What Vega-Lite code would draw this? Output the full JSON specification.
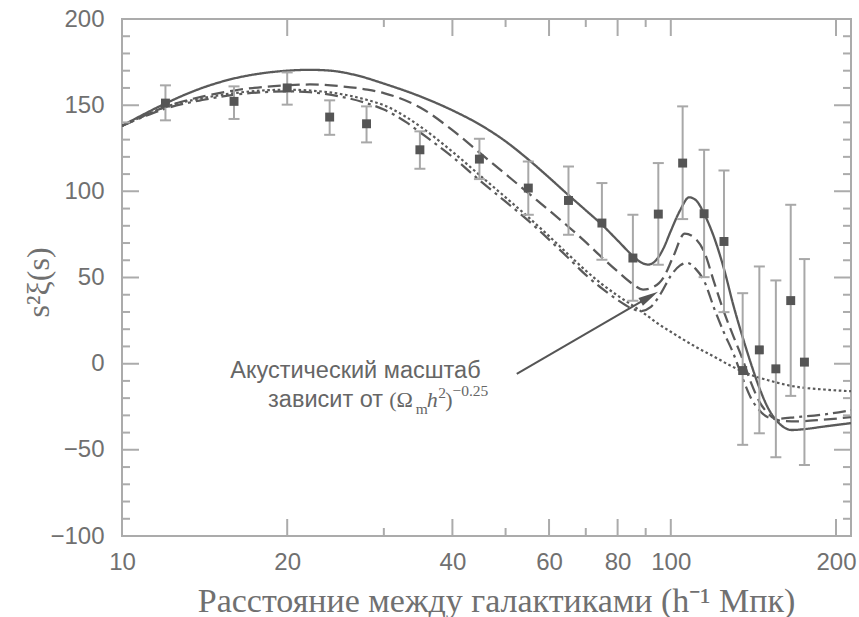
{
  "$schema": "https://vega.github.io/schema/vega-lite/v6.json",
  "width": 729,
  "height": 517,
  "autosize": {"type": "none"},
  "padding": {"left": 122, "top": 19, "right": 8, "bottom": 81},
  "background": "white",
  "config": {
    "view": {"stroke": "#ababab", "strokeWidth": 2},
    "axis": {
      "grid": false,
      "domain": false,
      "ticks": false,
      "labelFont": "Liberation Sans",
      "labelFontSize": 24,
      "labelColor": "#707070",
      "labelFlush": false,
      "labelOverlap": false
    }
  },
  "datasets": {
    "curves": [
      {"m": "a", "s": 10, "xi": 138}, {"m": "a", "s": 11, "xi": 145}, {"m": "a", "s": 12, "xi": 151},
      {"m": "a", "s": 14, "xi": 160}, {"m": "a", "s": 16, "xi": 165.5}, {"m": "a", "s": 18, "xi": 168.5},
      {"m": "a", "s": 20, "xi": 170}, {"m": "a", "s": 22, "xi": 170.5}, {"m": "a", "s": 24, "xi": 170},
      {"m": "a", "s": 27, "xi": 167}, {"m": "a", "s": 30, "xi": 162.5}, {"m": "a", "s": 35, "xi": 155},
      {"m": "a", "s": 40, "xi": 147}, {"m": "a", "s": 45, "xi": 138.5}, {"m": "a", "s": 50, "xi": 129},
      {"m": "a", "s": 55, "xi": 118.5}, {"m": "a", "s": 60, "xi": 108}, {"m": "a", "s": 65, "xi": 98},
      {"m": "a", "s": 70, "xi": 89}, {"m": "a", "s": 75, "xi": 80.5}, {"m": "a", "s": 80, "xi": 71.5},
      {"m": "a", "s": 85, "xi": 63}, {"m": "a", "s": 88, "xi": 59}, {"m": "a", "s": 91, "xi": 57.5},
      {"m": "a", "s": 94, "xi": 60}, {"m": "a", "s": 97, "xi": 67}, {"m": "a", "s": 100, "xi": 77},
      {"m": "a", "s": 104, "xi": 89}, {"m": "a", "s": 108, "xi": 96.5}, {"m": "a", "s": 111, "xi": 95},
      {"m": "a", "s": 115, "xi": 87}, {"m": "a", "s": 120, "xi": 73}, {"m": "a", "s": 125, "xi": 55},
      {"m": "a", "s": 130, "xi": 34}, {"m": "a", "s": 135, "xi": 16}, {"m": "a", "s": 140, "xi": 0},
      {"m": "a", "s": 145, "xi": -14}, {"m": "a", "s": 150, "xi": -25}, {"m": "a", "s": 158, "xi": -35},
      {"m": "a", "s": 166, "xi": -38.5}, {"m": "a", "s": 175, "xi": -38}, {"m": "a", "s": 190, "xi": -36.5},
      {"m": "a", "s": 213, "xi": -34.5},

      {"m": "b", "s": 10, "xi": 138}, {"m": "b", "s": 11, "xi": 144}, {"m": "b", "s": 12, "xi": 149},
      {"m": "b", "s": 14, "xi": 155}, {"m": "b", "s": 16, "xi": 158.5}, {"m": "b", "s": 18, "xi": 160.5},
      {"m": "b", "s": 20, "xi": 161.5}, {"m": "b", "s": 22, "xi": 162}, {"m": "b", "s": 25, "xi": 161},
      {"m": "b", "s": 28, "xi": 159}, {"m": "b", "s": 30, "xi": 157}, {"m": "b", "s": 35, "xi": 148.5},
      {"m": "b", "s": 40, "xi": 135.5}, {"m": "b", "s": 45, "xi": 122}, {"m": "b", "s": 50, "xi": 110},
      {"m": "b", "s": 55, "xi": 99}, {"m": "b", "s": 60, "xi": 89}, {"m": "b", "s": 65, "xi": 79.6},
      {"m": "b", "s": 70, "xi": 70.5}, {"m": "b", "s": 75, "xi": 61.5}, {"m": "b", "s": 80, "xi": 53.5},
      {"m": "b", "s": 85, "xi": 46.5}, {"m": "b", "s": 89, "xi": 43}, {"m": "b", "s": 93, "xi": 44.5},
      {"m": "b", "s": 97, "xi": 50}, {"m": "b", "s": 101, "xi": 62}, {"m": "b", "s": 106, "xi": 75.5},
      {"m": "b", "s": 110, "xi": 73.5}, {"m": "b", "s": 115, "xi": 65}, {"m": "b", "s": 120, "xi": 47},
      {"m": "b", "s": 125, "xi": 30}, {"m": "b", "s": 130, "xi": 16}, {"m": "b", "s": 135, "xi": 3},
      {"m": "b", "s": 140, "xi": -11}, {"m": "b", "s": 145, "xi": -22}, {"m": "b", "s": 150, "xi": -28.5},
      {"m": "b", "s": 158, "xi": -33}, {"m": "b", "s": 170, "xi": -33.5}, {"m": "b", "s": 190, "xi": -32.5},
      {"m": "b", "s": 213, "xi": -31},

      {"m": "c", "s": 10, "xi": 138}, {"m": "c", "s": 11, "xi": 143.5}, {"m": "c", "s": 12, "xi": 148},
      {"m": "c", "s": 14, "xi": 153}, {"m": "c", "s": 16, "xi": 156}, {"m": "c", "s": 18, "xi": 157.5},
      {"m": "c", "s": 20, "xi": 158}, {"m": "c", "s": 22, "xi": 157.5}, {"m": "c", "s": 25, "xi": 155},
      {"m": "c", "s": 28, "xi": 151}, {"m": "c", "s": 30, "xi": 147.5}, {"m": "c", "s": 33, "xi": 140},
      {"m": "c", "s": 35, "xi": 134}, {"m": "c", "s": 40, "xi": 120}, {"m": "c", "s": 45, "xi": 106},
      {"m": "c", "s": 50, "xi": 94}, {"m": "c", "s": 55, "xi": 83}, {"m": "c", "s": 60, "xi": 72},
      {"m": "c", "s": 65, "xi": 61.5}, {"m": "c", "s": 70, "xi": 51.5}, {"m": "c", "s": 75, "xi": 43.5},
      {"m": "c", "s": 80, "xi": 37}, {"m": "c", "s": 85, "xi": 32}, {"m": "c", "s": 88, "xi": 30.5},
      {"m": "c", "s": 92, "xi": 33}, {"m": "c", "s": 96, "xi": 41}, {"m": "c", "s": 100, "xi": 51},
      {"m": "c", "s": 104, "xi": 57}, {"m": "c", "s": 107, "xi": 58.5}, {"m": "c", "s": 111, "xi": 55},
      {"m": "c", "s": 115, "xi": 48}, {"m": "c", "s": 120, "xi": 32}, {"m": "c", "s": 125, "xi": 18},
      {"m": "c", "s": 130, "xi": 6}, {"m": "c", "s": 135, "xi": -8}, {"m": "c", "s": 140, "xi": -20},
      {"m": "c", "s": 145, "xi": -27}, {"m": "c", "s": 150, "xi": -31}, {"m": "c", "s": 155, "xi": -32},
      {"m": "c", "s": 170, "xi": -31}, {"m": "c", "s": 190, "xi": -29.5}, {"m": "c", "s": 213, "xi": -27},

      {"m": "d", "s": 10, "xi": 138}, {"m": "d", "s": 11, "xi": 144}, {"m": "d", "s": 12, "xi": 149},
      {"m": "d", "s": 14, "xi": 154}, {"m": "d", "s": 16, "xi": 157}, {"m": "d", "s": 18, "xi": 158.5},
      {"m": "d", "s": 20, "xi": 159}, {"m": "d", "s": 22, "xi": 158.5}, {"m": "d", "s": 25, "xi": 156.5},
      {"m": "d", "s": 28, "xi": 153}, {"m": "d", "s": 30, "xi": 150}, {"m": "d", "s": 33, "xi": 143},
      {"m": "d", "s": 35, "xi": 137.5}, {"m": "d", "s": 40, "xi": 123}, {"m": "d", "s": 45, "xi": 109},
      {"m": "d", "s": 50, "xi": 96.5}, {"m": "d", "s": 55, "xi": 85}, {"m": "d", "s": 60, "xi": 74},
      {"m": "d", "s": 65, "xi": 63.5}, {"m": "d", "s": 70, "xi": 54}, {"m": "d", "s": 75, "xi": 46},
      {"m": "d", "s": 80, "xi": 39.5}, {"m": "d", "s": 85, "xi": 34}, {"m": "d", "s": 90, "xi": 28.5},
      {"m": "d", "s": 95, "xi": 23}, {"m": "d", "s": 100, "xi": 18.5}, {"m": "d", "s": 110, "xi": 10.5},
      {"m": "d", "s": 120, "xi": 4}, {"m": "d", "s": 130, "xi": -2}, {"m": "d", "s": 140, "xi": -6.5},
      {"m": "d", "s": 150, "xi": -9.5}, {"m": "d", "s": 170, "xi": -13.5}, {"m": "d", "s": 190, "xi": -15},
      {"m": "d", "s": 213, "xi": -16}
    ],
    "pts": [
      {"s": 12.0, "xi": 151.2, "lo": 141.2, "hi": 161.5},
      {"s": 16.0, "xi": 152.2, "lo": 142.0, "hi": 160.9},
      {"s": 20.0, "xi": 160.0, "lo": 150.3, "hi": 169.0},
      {"s": 23.9, "xi": 143.1, "lo": 132.8, "hi": 152.8},
      {"s": 27.9, "xi": 139.2, "lo": 128.4, "hi": 149.3},
      {"s": 34.9, "xi": 124.1, "lo": 113.1, "hi": 134.8},
      {"s": 44.8, "xi": 118.7, "lo": 107.1, "hi": 130.5},
      {"s": 55.0, "xi": 101.9, "lo": 86.4, "hi": 117.3},
      {"s": 65.1, "xi": 94.7, "lo": 74.8, "hi": 114.4},
      {"s": 74.9, "xi": 81.6, "lo": 60.3, "hi": 104.8},
      {"s": 85.3, "xi": 61.3, "lo": 36.5, "hi": 86.4},
      {"s": 94.9, "xi": 86.8, "lo": 57.4, "hi": 116.4},
      {"s": 105.1, "xi": 116.4, "lo": 83.9, "hi": 149.3},
      {"s": 115.0, "xi": 87.0, "lo": 50.2, "hi": 124.1},
      {"s": 125.0, "xi": 70.9, "lo": 29.9, "hi": 112.1},
      {"s": 135.2, "xi": -4.0, "lo": -47.1, "hi": 40.9},
      {"s": 145.0, "xi": 8.0, "lo": -40.4, "hi": 56.4},
      {"s": 155.4, "xi": -3.0, "lo": -54.3, "hi": 48.3},
      {"s": 165.4, "xi": 36.6, "lo": -18.7, "hi": 92.2},
      {"s": 175.2, "xi": 0.9, "lo": -58.8, "hi": 60.7}
    ],
    "xticks": [
      {"v": 20, "k": "major"}, {"v": 30, "k": "minor"}, {"v": 40, "k": "major"}, {"v": 50, "k": "minor"},
      {"v": 60, "k": "major"}, {"v": 70, "k": "minor"}, {"v": 80, "k": "major"}, {"v": 90, "k": "minor"},
      {"v": 100, "k": "major"}, {"v": 200, "k": "major"}
    ],
    "yticks": [
      {"v": -90, "k": "minor"}, {"v": -80, "k": "minor"}, {"v": -70, "k": "minor"}, {"v": -60, "k": "minor"},
      {"v": -50, "k": "major"}, {"v": -40, "k": "minor"}, {"v": -30, "k": "minor"}, {"v": -20, "k": "minor"},
      {"v": -10, "k": "minor"}, {"v": 0, "k": "major"}, {"v": 10, "k": "minor"}, {"v": 20, "k": "minor"},
      {"v": 30, "k": "minor"}, {"v": 40, "k": "minor"}, {"v": 50, "k": "major"}, {"v": 60, "k": "minor"},
      {"v": 70, "k": "minor"}, {"v": 80, "k": "minor"}, {"v": 90, "k": "minor"}, {"v": 100, "k": "major"},
      {"v": 110, "k": "minor"}, {"v": 120, "k": "minor"}, {"v": 130, "k": "minor"}, {"v": 140, "k": "minor"},
      {"v": 150, "k": "major"}, {"v": 160, "k": "minor"}, {"v": 170, "k": "minor"}, {"v": 180, "k": "minor"},
      {"v": 190, "k": "minor"}
    ]
  },
  "layer": [
    {
      "data": {"name": "curves"},
      "mark": {"type": "line", "interpolate": "monotone", "color": "#5a5a5a", "clip": true},
      "encoding": {
        "x": {"field": "s", "type": "quantitative", "scale": {"type": "log", "domain": [10, 213], "nice": false},
          "axis": {"orient": "bottom", "values": [10, 20, 40, 60, 80, 100, 200], "format": "d", "labelPadding": 14,
            "title": "Расстояние между галактиками (h⁻¹ Мпк)", "titleFont": "Liberation Serif", "titleFontSize": 34,
            "titleFontWeight": "normal", "titleColor": "#707070", "titleX": 374, "titleY": 75, "titleBaseline": "alphabetic"}},
        "y": {"field": "xi", "type": "quantitative", "scale": {"domain": [-100, 200], "nice": false},
          "axis": {"orient": "left", "values": [-100, -50, 0, 50, 100, 150, 200], "format": "d", "labelPadding": 18,
            "title": "s²ξ(s)", "titleFont": "Liberation Serif", "titleFontSize": 32, "titleFontWeight": "normal",
            "titleColor": "#707070", "titleX": -84, "titleY": 263, "titleAngle": -90, "titleBaseline": "middle", "titleAlign": "center"}},
        "strokeDash": {"field": "m", "type": "nominal", "legend": null,
          "scale": {"domain": ["a", "b", "c", "d"], "range": [[1, 0], [13, 6], [13, 5, 3, 5], [2.6, 2.6]]}},
        "strokeWidth": {"field": "m", "type": "nominal", "legend": null,
          "scale": {"domain": ["a", "b", "c", "d"], "range": [2.3, 2.2, 2.2, 2.7]}}
      }
    },
    {
      "data": {"name": "xticks"},
      "mark": {"type": "tick", "orient": "vertical", "thickness": 2, "color": "#ababab", "opacity": 1, "clip": true},
      "encoding": {
        "x": {"field": "v", "type": "quantitative", "scale": {"type": "log", "domain": [10, 213], "nice": false}, "axis": null},
        "y": {"datum": -100, "type": "quantitative", "scale": {"domain": [-100, 200], "nice": false}, "axis": null},
        "size": {"field": "k", "type": "nominal", "legend": null, "scale": {"domain": ["major", "minor"], "range": [34, 16]}}
      }
    },
    {
      "data": {"name": "xticks"},
      "mark": {"type": "tick", "orient": "vertical", "thickness": 2, "color": "#ababab", "opacity": 1, "clip": true},
      "encoding": {
        "x": {"field": "v", "type": "quantitative", "scale": {"type": "log", "domain": [10, 213], "nice": false}, "axis": null},
        "y": {"datum": 200, "type": "quantitative", "scale": {"domain": [-100, 200], "nice": false}, "axis": null},
        "size": {"field": "k", "type": "nominal", "legend": null, "scale": {"domain": ["major", "minor"], "range": [34, 16]}}
      }
    },
    {
      "data": {"name": "yticks"},
      "mark": {"type": "tick", "orient": "horizontal", "thickness": 2, "color": "#ababab", "opacity": 1, "clip": true},
      "encoding": {
        "x": {"datum": 10, "type": "quantitative", "scale": {"type": "log", "domain": [10, 213], "nice": false}, "axis": null},
        "y": {"field": "v", "type": "quantitative", "scale": {"domain": [-100, 200], "nice": false}, "axis": null},
        "size": {"field": "k", "type": "nominal", "legend": null, "scale": {"domain": ["major", "minor"], "range": [32, 16]}}
      }
    },
    {
      "data": {"name": "yticks"},
      "mark": {"type": "tick", "orient": "horizontal", "thickness": 2, "color": "#ababab", "opacity": 1, "clip": true},
      "encoding": {
        "x": {"datum": 213, "type": "quantitative", "scale": {"type": "log", "domain": [10, 213], "nice": false}, "axis": null},
        "y": {"field": "v", "type": "quantitative", "scale": {"domain": [-100, 200], "nice": false}, "axis": null},
        "size": {"field": "k", "type": "nominal", "legend": null, "scale": {"domain": ["major", "minor"], "range": [32, 16]}}
      }
    },
    {
      "data": {"name": "pts"},
      "mark": {"type": "rule", "color": "#a8a8a8", "strokeWidth": 2},
      "encoding": {
        "x": {"field": "s", "type": "quantitative", "scale": {"type": "log", "domain": [10, 213], "nice": false}, "axis": null},
        "y": {"field": "lo", "type": "quantitative", "scale": {"domain": [-100, 200], "nice": false}, "axis": null},
        "y2": {"field": "hi"}
      }
    },
    {
      "data": {"name": "pts"},
      "transform": [{"fold": ["lo", "hi"], "as": ["end", "v"]}],
      "mark": {"type": "tick", "orient": "horizontal", "size": 11, "thickness": 2, "color": "#a8a8a8", "opacity": 1},
      "encoding": {
        "x": {"field": "s", "type": "quantitative", "scale": {"type": "log", "domain": [10, 213], "nice": false}, "axis": null},
        "y": {"field": "v", "type": "quantitative", "scale": {"domain": [-100, 200], "nice": false}, "axis": null}
      }
    },
    {
      "data": {"name": "pts"},
      "mark": {"type": "point", "shape": "square", "filled": true, "size": 80, "color": "#555555", "opacity": 1},
      "encoding": {
        "x": {"field": "s", "type": "quantitative", "scale": {"type": "log", "domain": [10, 213], "nice": false}, "axis": null},
        "y": {"field": "xi", "type": "quantitative", "scale": {"domain": [-100, 200], "nice": false}, "axis": null}
      }
    },
    {
      "data": {"values": [{"s": 52.4, "xi": -5.9, "s2": 91.4, "xi2": 38.8}]},
      "mark": {"type": "rule", "color": "#555555", "strokeWidth": 2},
      "encoding": {
        "x": {"field": "s", "type": "quantitative", "scale": {"type": "log", "domain": [10, 213], "nice": false}, "axis": null},
        "y": {"field": "xi", "type": "quantitative", "scale": {"domain": [-100, 200], "nice": false}, "axis": null},
        "x2": {"field": "s2"},
        "y2": {"field": "xi2"}
      }
    },
    {
      "data": {"values": [{"s": 91.4, "xi": 38.8}]},
      "mark": {"type": "point", "shape": "M1,0L-1,-0.45L-1,0.45Z", "size": 400, "angle": 330, "filled": true, "color": "#555555", "opacity": 1},
      "encoding": {
        "x": {"field": "s", "type": "quantitative", "scale": {"type": "log", "domain": [10, 213], "nice": false}, "axis": null},
        "y": {"field": "xi", "type": "quantitative", "scale": {"domain": [-100, 200], "nice": false}, "axis": null}
      }
    },
    {
      "data": {"values": [{"s": 15.75, "xi": -8.2, "t": "Акустический масштаб"}]},
      "mark": {"type": "text", "align": "left", "baseline": "alphabetic", "font": "Liberation Sans", "fontSize": 23.5, "color": "#666666"},
      "encoding": {
        "x": {"field": "s", "type": "quantitative", "scale": {"type": "log", "domain": [10, 213], "nice": false}, "axis": null},
        "y": {"field": "xi", "type": "quantitative", "scale": {"domain": [-100, 200], "nice": false}, "axis": null},
        "text": {"field": "t"}
      }
    },
    {
      "data": {"values": [{"s": 29.9, "xi": -25.1, "t": "зависит от"}]},
      "mark": {"type": "text", "align": "right", "baseline": "alphabetic", "font": "Liberation Sans", "fontSize": 23.5, "color": "#666666"},
      "encoding": {
        "x": {"field": "s", "type": "quantitative", "scale": {"type": "log", "domain": [10, 213], "nice": false}, "axis": null},
        "y": {"field": "xi", "type": "quantitative", "scale": {"domain": [-100, 200], "nice": false}, "axis": null},
        "text": {"field": "t"}
      }
    },
    {
      "data": {"values": [
        {"s": 30.69, "xi": -25.1, "t": "(Ω"},
        {"s": 38.8, "xi": -25.1, "t": ")"}
      ]},
      "mark": {"type": "text", "align": "left", "baseline": "alphabetic", "font": "Liberation Serif", "fontSize": 22, "color": "#666666"},
      "encoding": {
        "x": {"field": "s", "type": "quantitative", "scale": {"type": "log", "domain": [10, 213], "nice": false}, "axis": null},
        "y": {"field": "xi", "type": "quantitative", "scale": {"domain": [-100, 200], "nice": false}, "axis": null},
        "text": {"field": "t"}
      }
    },
    {
      "data": {"values": [{"s": 35.9, "xi": -25.1, "t": "h"}]},
      "mark": {"type": "text", "align": "left", "baseline": "alphabetic", "font": "Liberation Serif", "fontStyle": "italic", "fontSize": 22, "color": "#666666"},
      "encoding": {
        "x": {"field": "s", "type": "quantitative", "scale": {"type": "log", "domain": [10, 213], "nice": false}, "axis": null},
        "y": {"field": "xi", "type": "quantitative", "scale": {"domain": [-100, 200], "nice": false}, "axis": null},
        "text": {"field": "t"}
      }
    },
    {
      "data": {"values": [
        {"s": 34.3, "xi": -29.1, "t": "m"},
        {"s": 37.7, "xi": -19.9, "t": "2"},
        {"s": 40.0, "xi": -18.7, "t": "−0.25"}
      ]},
      "mark": {"type": "text", "align": "left", "baseline": "alphabetic", "font": "Liberation Serif", "fontSize": 15.5, "color": "#666666"},
      "encoding": {
        "x": {"field": "s", "type": "quantitative", "scale": {"type": "log", "domain": [10, 213], "nice": false}, "axis": null},
        "y": {"field": "xi", "type": "quantitative", "scale": {"domain": [-100, 200], "nice": false}, "axis": null},
        "text": {"field": "t"}
      }
    }
  ],
  "resolve": {"axis": {"x": "independent", "y": "independent"}}
}
